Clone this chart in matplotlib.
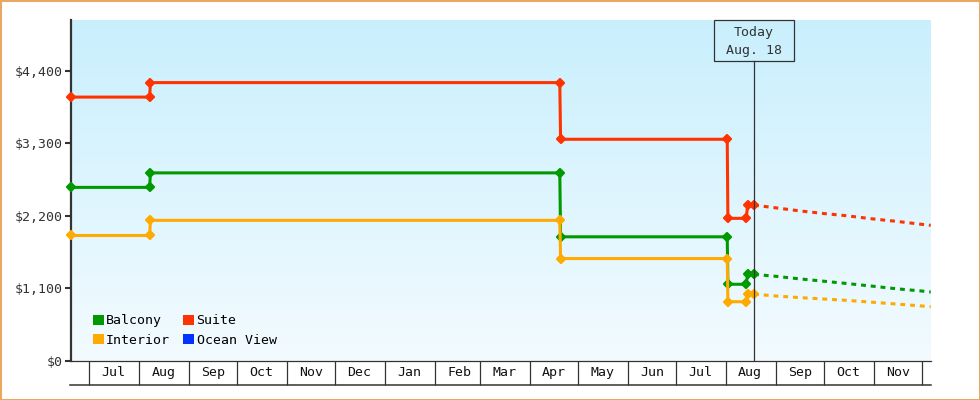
import numpy as np
import pandas as pd
import matplotlib
matplotlib.use('Agg')
import matplotlib.pyplot as plt
import matplotlib.dates as mdates
from matplotlib.patches import Patch, Rectangle
from matplotlib.colors import LinearSegmentedColormap
from matplotlib.markers import MarkerStyle
from matplotlib.ticker import FuncFormatter

plt.rcParams['font.family'] = ['DejaVu Sans Mono']

# time range shown
x_start = "2022-06-19 14:00"
x_end = "2023-12-06 10:00"
today = "2023-08-18 12:00"

# price history (points where the price changed)
hist_dates = [x_start, "2022-08-07 12:00", "2022-08-08 00:00",
              "2023-04-19 16:00", "2023-04-20 04:00",
              "2023-08-01 20:00", "2023-08-02 06:00",
              "2023-08-13 17:00", "2023-08-14 12:00", today]
balcony = [2630, 2630, 2850, 2850, 1880, 1880, 1160, 1160, 1310, 1310]
interior = [1900, 1900, 2130, 2130, 1550, 1550, 895, 895, 1010, 1010]
suite = [4000, 4000, 4220, 4220, 3360, 3360, 2160, 2160, 2360, 2360]

# forecast after today
fc_dates = [today, "2023-09-01 00:00", "2023-09-15 00:00", "2023-10-01 00:00",
            "2023-10-15 00:00", "2023-11-01 00:00", "2023-11-15 00:00",
            "2023-12-01 00:00", x_end]
balcony_fc = [1310, 1281, 1244, 1206, 1172, 1129, 1092, 1057, 1042]
interior_fc = [1010, 982, 959, 936, 916, 886, 860, 830, 819]
suite_fc = [2360, 2320, 2276, 2233, 2200, 2150, 2115, 2069, 2054]

y_ticks = [0, 1100, 2200, 3300, 4400]
y_max = 5170

colors = {'Balcony': '#009900', 'Interior': '#ffaa00',
          'Suite': '#ff3300', 'Ocean View': '#0033ff'}

hd = pd.to_datetime(hist_dates, format='ISO8601').to_numpy()
fd = pd.to_datetime(fc_dates, format='ISO8601').to_numpy()
t0, t1, tt = pd.to_datetime([x_start, x_end, today], format='ISO8601').to_numpy()

fig = plt.figure(figsize=(9.8, 4), dpi=100)
ax = fig.add_axes([71 / 980, 39.3 / 400, 859.7 / 980, 340.7 / 400])

# background gradient
cmap = LinearSegmentedColormap.from_list('bg', ['#f3fbff', '#c9effd'])
ax.imshow(np.linspace(0, 1, 256).reshape(-1, 1), cmap=cmap, origin='lower',
          extent=[0, 1, 0, 1], transform=ax.transAxes, aspect='auto', zorder=0)

mk = MarkerStyle('D', joinstyle='round')
series = [('Balcony', balcony, balcony_fc),
          ('Interior', interior, interior_fc),
          ('Suite', suite, suite_fc)]
for name, vals, fc in series:
    c = colors[name]
    ax.plot(hd, vals, color=c, lw=2.2, marker=mk, ms=4.4, mew=1.6,
            mec=c, mfc=c, zorder=3, clip_on=False)
    ax.plot(fd, fc, color=c, lw=2.2, ls=(0, (1.6, 1.6)),
            dash_capstyle='butt', zorder=3)

ax.set_xlim(t0, t1)
ax.set_ylim(0, y_max)

# y axis
ax.set_yticks(y_ticks)
ax.yaxis.set_major_formatter(FuncFormatter(lambda v, p: f"${v:,.0f}"))
ax.tick_params(axis='y', length=4.3, width=1.5, color='#333333',
               labelsize=9.5, labelcolor='#333333', pad=2)

# x axis: month cells
ax.xaxis.set_major_locator(mdates.MonthLocator())
ax.xaxis.set_minor_locator(mdates.MonthLocator(bymonthday=16))
ax.xaxis.set_minor_formatter(mdates.DateFormatter('%b'))
ax.xaxis.set_major_formatter(mdates.DateFormatter(''))
ax.tick_params(axis='x', which='major', length=17.5, width=0.9,
               color='#333333', labelbottom=False)
ax.tick_params(axis='x', which='minor', length=0, pad=4,
               labelsize=9.5, labelcolor='#111111')
cell_h = 24.3 / 340.7
ax.plot([-0.0012, 1], [-cell_h, -cell_h], transform=ax.transAxes,
        color='#333333', lw=1.1, clip_on=False)

for s in ['top', 'right']:
    ax.spines[s].set_visible(False)
ax.spines['left'].set_linewidth(1.6)
ax.spines['left'].set_color('#333333')
ax.spines['bottom'].set_linewidth(0.9)
ax.spines['bottom'].set_color('#333333')

# today marker
tx = (mdates.date2num(tt) - mdates.date2num(t0)) / (mdates.date2num(t1) - mdates.date2num(t0))
box_y0 = (360.7 - 60.7) / 340.7
box_w = 80 / 859.7
ax.axvline(tt, ymin=0, ymax=box_y0, color='#333333', lw=0.9, zorder=4)
ax.add_patch(Rectangle((tx - box_w / 2, box_y0), box_w, 1 - box_y0,
                       transform=ax.transAxes, fill=False, ec='#333333',
                       lw=0.9, clip_on=False, zorder=4))
ax.text(tx, (360.7 - 32.5) / 340.7, 'Today', transform=ax.transAxes,
        ha='center', va='center', fontsize=9.5, color='#333333')
ax.text(tx, (360.7 - 50.5) / 340.7, 'Aug. 18', transform=ax.transAxes,
        ha='center', va='center', fontsize=9.5, color='#333333')

# legend
handles = [Patch(facecolor=colors[n], edgecolor='none', label=n)
           for n in ['Balcony', 'Interior', 'Suite', 'Ocean View']]
ax.legend(handles=handles, ncol=2, loc='lower left',
          bbox_to_anchor=(0.0256, 0.041), frameon=False, fontsize=9.5,
          handlelength=0.8, handleheight=0.8, handletextpad=0.2,
          columnspacing=1.0, labelspacing=0.5, borderpad=0, borderaxespad=0)

# outer border
fig.patches.append(Rectangle((0, 0), 1, 1, transform=fig.transFigure,
                             fill=False, ec='#e8a862', lw=2.2))

fig.savefig('out.png', dpi=100)
